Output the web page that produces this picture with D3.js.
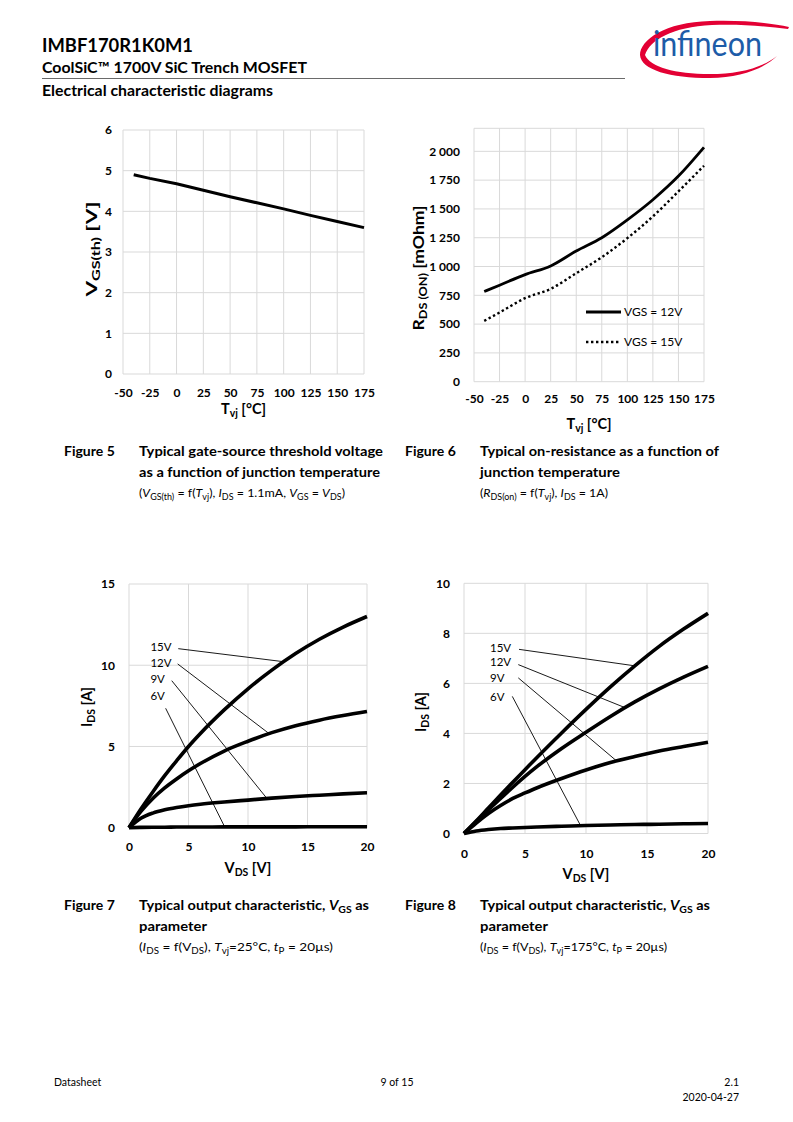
<!DOCTYPE html>
<html>
<head>
<meta charset="utf-8">
<script src="https://cdn.jsdelivr.net/npm/d3@7"></script>
<style>
body { margin: 0; background: #fff; }
svg { display: block; }
text { font-family: Lato, 'Open Sans', sans-serif; white-space: pre; }
</style>
</head>
<body>
<div id="page"></div>
<script>
// Figure 5: Vgs(th) vs Tvj
const tvjTicks = [-50, -25, 0, 25, 50, 75, 100, 125, 150, 175]
const vthTicks = [0, 1, 2, 3, 4, 5, 6]
const vthTemp = [-40, -25, 0, 25, 50, 75, 100, 125, 150, 175]
const vthValue = [4.90, 4.81, 4.68, 4.52, 4.36, 4.21, 4.06, 3.90, 3.75, 3.60]

// Figure 6: Rds(on) vs Tvj
const rdsTicks = [0, 250, 500, 750, 1000, 1250, 1500, 1750, 2000]
const rdsTemp = [-40, -25, 0, 25, 50, 75, 100, 125, 150, 175]
const rds12 = [783, 838, 930, 1005, 1135, 1250, 1405, 1580, 1785, 2035]
const rds15 = [528, 601, 725, 806, 942, 1081, 1246, 1435, 1652, 1875]
const rdsLegend = ['VGS = 12V', 'VGS = 15V']

// Figure 7 / 8: output characteristics
const vdsTicks = [0, 5, 10, 15, 20]
const ids25Ticks = [0, 5, 10, 15]
const ids175Ticks = [0, 2, 4, 6, 8, 10]
const vdsPts = [0, 1, 2, 3, 4, 5, 6, 8, 10, 12, 14, 16, 18, 20]
const ids25_15 = [0, 1.15, 2.2, 3.2, 4.12, 5.0, 5.8, 7.25, 8.55, 9.7, 10.72, 11.6, 12.35, 13.0]
const ids25_12 = [0, 1.0, 1.8, 2.45, 3.0, 3.5, 3.95, 4.72, 5.32, 5.85, 6.28, 6.62, 6.9, 7.15]
const ids25_9 = [0, 0.58, 0.9, 1.1, 1.24, 1.35, 1.44, 1.58, 1.7, 1.82, 1.92, 2.0, 2.08, 2.15]
const ids25_6 = [0, 0.02, 0.03, 0.03, 0.04, 0.04, 0.04, 0.05, 0.05, 0.05, 0.05, 0.06, 0.06, 0.06]
const ids175_15 = [0, 0.5, 1.02, 1.54, 2.05, 2.55, 3.05, 4.02, 4.96, 5.86, 6.7, 7.48, 8.17, 8.8]
const ids175_12 = [0, 0.48, 0.95, 1.4, 1.85, 2.28, 2.68, 3.4, 4.05, 4.68, 5.26, 5.78, 6.25, 6.68]
const ids175_9 = [0, 0.42, 0.8, 1.12, 1.4, 1.62, 1.83, 2.2, 2.54, 2.84, 3.08, 3.3, 3.48, 3.65]
const ids175_6 = [0, 0.1, 0.16, 0.2, 0.22, 0.24, 0.26, 0.29, 0.32, 0.34, 0.36, 0.37, 0.39, 0.40]

// curve labels + leader lines, in data units
const vgsLabels = ['15V', '12V', '9V', '6V']
const fig7LabelY = [11.13, 10.15, 9.17, 8.1]
const fig7LeadFrom = [[4.14, 11.02], [4.09, 10.08], [3.59, 9.05], [3.08, 7.35]]
const fig7LeadTo = [[12.97, 10.22], [11.76, 5.8], [11.57, 1.82], [8.04, 0.05]]
const fig8LabelY = [7.42, 6.85, 6.22, 5.48]
const fig8LeadFrom = [[4.51, 7.36], [4.45, 6.75], [4.45, 6.22], [3.96, 5.48]]
const fig8LeadTo = [[14.02, 6.7], [13.2, 5.03], [12.51, 2.9], [9.56, 0.31]]

const gridColor = '#d9d9d9'
const spaceFmt = d3.formatLocale({ decimal: '.', thousands: '\u00a0', grouping: [3], currency: ['', ''] }).format(',')

let svg = d3.select('#page')
    .append('svg')
    .attr('width', 793)
    .attr('height', 1122)

svg.append('rect').attr('width', 793).attr('height', 1122).attr('fill', '#fff')

// text with italic / subscript pieces: 'plain' or ['txt', 'i'|'s'|'is']
function richText(parent, x, y, parts, size, weight, anchor, len) {
    const t = parent.append('text')
        .attr('x', x).attr('y', y)
        .attr('font-size', size)
        .attr('font-weight', weight || 400)
        .attr('text-anchor', anchor || 'start')
        .attr('fill', '#000')
    if (len) t.attr('textLength', len).attr('lengthAdjust', 'spacingAndGlyphs')
    const subShift = size * 0.22
    let shift = 0
    parts.forEach(p => {
        const str = typeof p === 'string' ? p : p[0]
        const st = typeof p === 'string' ? '' : p[1]
        const ts = t.append('tspan').text(str)
        const want = st.includes('s') ? subShift : 0
        if (want !== shift) {
            ts.attr('dy', want - shift)
            shift = want
        }
        if (st.includes('s')) ts.attr('font-size', size * 0.72)
        if (st.includes('i')) ts.attr('font-style', 'italic')
    })
    return t
}

function buildLineChart(c) {
    const x = d3.scaleLinear().domain(c.xDomain).range([c.left, c.right])
    const y = d3.scaleLinear().domain(c.yDomain).range([c.bottom, c.top])
    const g = svg.append('g')
    const fs = 12

    // grid
    g.append('g').selectAll('line').data(c.xTicks).enter().append('line')
        .attr('x1', d => x(d)).attr('x2', d => x(d))
        .attr('y1', c.top).attr('y2', c.bottom)
        .attr('stroke', gridColor)
    g.append('g').selectAll('line').data(c.yGrid).enter().append('line')
        .attr('x1', c.left).attr('x2', c.right)
        .attr('y1', d => y(d)).attr('y2', d => y(d))
        .attr('stroke', gridColor)

    // axes (labels only)
    const xAxis = d3.axisBottom(x).tickValues(c.xTicks).tickSize(0)
        .tickPadding(c.xLabelBase - c.bottom - 0.71 * fs)
        .tickFormat(d => String(d))
    g.append('g').attr('transform', `translate(0,${c.bottom})`).call(xAxis)
        .attr('font-size', fs).attr('font-family', 'Lato, sans-serif').attr('font-weight', 'bold')
        .call(a => a.select('.domain').remove())
    const yAxis = d3.axisLeft(y).tickValues(c.yTicks).tickSize(0)
        .tickPadding(c.left - c.yLabelRight)
        .tickFormat(c.yFormat || (d => String(d)))
    g.append('g').attr('transform', `translate(${c.left},0)`).call(yAxis)
        .attr('font-size', fs).attr('font-family', 'Lato, sans-serif').attr('font-weight', 'bold')
        .call(a => a.select('.domain').remove())

    // curves
    c.series.forEach(s => {
        const line = d3.line()
            .x(d => x(d[0]))
            .y(d => y(d[1]))
            .curve(s.curve || d3.curveMonotoneX)
        g.append('path')
            .datum(d3.zip(s.x, s.y))
            .attr('d', line)
            .attr('fill', 'none')
            .attr('stroke', '#000')
            .attr('stroke-width', s.width)
            .attr('stroke-dasharray', s.dash || null)
            .attr('stroke-linejoin', 'round')
    })

    // leader lines and labels
    if (c.leaders) {
        const L = c.leaders
        L.labels.forEach((lab, i) => {
            g.append('line')
                .attr('x1', x(L.from[i][0])).attr('y1', y(L.from[i][1]))
                .attr('x2', x(L.to[i][0])).attr('y2', y(L.to[i][1]))
                .attr('stroke', '#000').attr('stroke-width', 0.9)
            g.append('text')
                .attr('x', x(L.labelX)).attr('y', y(L.labelY[i]))
                .attr('dy', '0.36em')
                .attr('font-size', 11.5)
                .text(lab)
        })
    }

    // legend
    if (c.legend) {
        c.legend.forEach((item, i) => {
            const ly = c.legendY + i * 30
            g.append('line')
                .attr('x1', c.legendX).attr('x2', c.legendX + 35)
                .attr('y1', ly).attr('y2', ly)
                .attr('stroke', '#000')
                .attr('stroke-width', c.series[i].width)
                .attr('stroke-dasharray', c.series[i].dash || null)
            g.append('text')
                .attr('x', c.legendX + 38).attr('y', ly).attr('dy', '0.36em')
                .attr('font-size', 12)
                .text(item)
        })
    }

    // axis titles
    richText(g, (c.left + c.right) / 2, c.xTitleBase, c.xTitle, 14.5, 'bold', 'middle')
    const yt = g.append('g').attr('transform', `translate(${c.yTitleBase},${c.yTitleMid}) rotate(-90)`)
    richText(yt, 0, 0, c.yTitle, 14.5, 'bold', 'middle', c.yTitleLen)
}

function drawHeader() {
    svg.append('text').attr('x', 42).attr('y', 52).attr('font-size', 18).attr('font-weight', 'bold')
        .attr('textLength', 151).attr('lengthAdjust', 'spacingAndGlyphs').text('IMBF170R1K0M1')
    svg.append('text').attr('x', 42).attr('y', 73).attr('font-size', 15).attr('font-weight', 'bold')
        .attr('textLength', 265).attr('lengthAdjust', 'spacingAndGlyphs').text('CoolSiC™ 1700V SiC Trench MOSFET')
    svg.append('line').attr('x1', 42).attr('x2', 625).attr('y1', 78.5).attr('y2', 78.5).attr('stroke', '#444').attr('stroke-width', 0.8)
    svg.append('text').attr('x', 42).attr('y', 96).attr('font-size', 14.5).attr('font-weight', 'bold')
        .attr('textLength', 231).attr('lengthAdjust', 'spacingAndGlyphs').text('Electrical characteristic diagrams')

    // logo
    const logo = svg.append('g')
    logo.append('path')
        .attr('d', 'M640,55 C640,40 665,22 710,21 C745,20 772,23 789,27 L788,29 C765,26 740,24 712,25 C672,27 650,40 645,55 Z')
        .attr('fill', '#e30034')
    logo.append('path')
        .attr('d', 'M640,55 C641,70 670,78 710,78 C740,78 765,68 777,56 C762,68 738,74 710,74 C675,74 650,67 645,55 Z')
        .attr('fill', '#e30034')
    logo.append('text')
        .attr('x', 653).attr('y', 56)
        .attr('font-family', "'Open Sans', sans-serif")
        .attr('font-size', 34).attr('font-weight', 400)
        .attr('fill', '#1d5ca8')
        .attr('textLength', 109).attr('lengthAdjust', 'spacingAndGlyphs')
        .text('infineon')
}

function drawCaption(x, y, fig, lines, params) {
    svg.append('text').attr('x', x).attr('y', y).attr('font-size', 14).attr('font-weight', 'bold').text(fig)
    lines.forEach((ln, i) => {
        richText(svg, x + 75, y + i * 21, ln.parts, 14, 'bold', 'start', ln.len)
    })
    richText(svg, x + 75, y + 41, params.parts, 12, 400, 'start', params.len)
}

function drawFooter() {
    svg.append('text').attr('x', 54).attr('y', 1086).attr('font-size', 10.5).text('Datasheet')
    svg.append('text').attr('x', 397).attr('y', 1086).attr('font-size', 10.5).attr('text-anchor', 'middle').text('9 of 15')
    svg.append('text').attr('x', 739).attr('y', 1086).attr('font-size', 10.5).attr('text-anchor', 'end').text('2.1')
    svg.append('text').attr('x', 739).attr('y', 1101).attr('font-size', 10.5).attr('text-anchor', 'end').text('2020-04-27')
}

(function draw() {
    drawHeader()

    buildLineChart({
        left: 123, right: 364, top: 130, bottom: 374,
        xDomain: [-50, 175], yDomain: [0, 6],
        xTicks: tvjTicks, yTicks: vthTicks, yGrid: vthTicks,
        xLabelBase: 397, yLabelRight: 112,
        series: [{ x: vthTemp, y: vthValue, width: 3, curve: d3.curveLinear }],
        xTitle: ['T', ['vj', 's'], ' [°C]'], xTitleBase: 414,
        yTitle: ['V', ['GS(th)', 's'], ' [V]'], yTitleBase: 97, yTitleMid: 249, yTitleLen: 95
    })

    buildLineChart({
        left: 474, right: 704, top: 128.3, bottom: 381.7,
        xDomain: [-50, 175], yDomain: [0, 2200],
        xTicks: tvjTicks, yTicks: rdsTicks, yGrid: rdsTicks.concat([2200]),
        yFormat: d => d >= 1000 ? spaceFmt(d) : String(d),
        xLabelBase: 403, yLabelRight: 460,
        series: [
            { x: rdsTemp, y: rds12, width: 2.8 },
            { x: rdsTemp, y: rds15, width: 2.4, dash: '2.4,2.6' }
        ],
        legend: rdsLegend, legendX: 586, legendY: 312,
        xTitle: ['T', ['vj', 's'], ' [°C]'], xTitleBase: 429,
        yTitle: ['R', ['DS (ON)', 's'], ' [mOhm]'], yTitleBase: 424, yTitleMid: 268, yTitleLen: 125
    })

    buildLineChart({
        left: 129, right: 367, top: 584, bottom: 827.7,
        xDomain: [0, 20], yDomain: [0, 15],
        xTicks: vdsTicks, yTicks: ids25Ticks, yGrid: ids25Ticks,
        xLabelBase: 851, yLabelRight: 115,
        series: [
            { x: vdsPts, y: ids25_15, width: 3.6 },
            { x: vdsPts, y: ids25_12, width: 3.6 },
            { x: vdsPts, y: ids25_9, width: 3.6 },
            { x: vdsPts, y: ids25_6, width: 3.6 }
        ],
        leaders: { labels: vgsLabels, labelX: 1.8, labelY: fig7LabelY, from: fig7LeadFrom, to: fig7LeadTo },
        xTitle: ['V', ['DS', 's'], ' [V]'], xTitleBase: 873,
        yTitle: ['I', ['DS', 's'], ' [A]'], yTitleBase: 92, yTitleMid: 707
    })

    buildLineChart({
        left: 464, right: 708, top: 583.3, bottom: 833.5,
        xDomain: [0, 20], yDomain: [0, 10],
        xTicks: vdsTicks, yTicks: ids175Ticks, yGrid: ids175Ticks,
        xLabelBase: 857.5, yLabelRight: 450,
        series: [
            { x: vdsPts, y: ids175_15, width: 3.6 },
            { x: vdsPts, y: ids175_12, width: 3.6 },
            { x: vdsPts, y: ids175_9, width: 3.6 },
            { x: vdsPts, y: ids175_6, width: 3.6 }
        ],
        leaders: { labels: vgsLabels, labelX: 2.13, labelY: fig8LabelY, from: fig8LeadFrom, to: fig8LeadTo },
        xTitle: ['V', ['DS', 's'], ' [V]'], xTitleBase: 878.5,
        yTitle: ['I', ['DS', 's'], ' [A]'], yTitleBase: 426, yTitleMid: 712
    })

    drawCaption(64, 456, 'Figure 5',
        [{ parts: ['Typical gate-source threshold voltage'], len: 244 },
         { parts: ['as a function of junction temperature'], len: 241 }],
        { parts: ['(', ['V', 'i'], ['GS(th)', 's'], ' = f(', ['T', 'i'], ['vj', 's'], '), ', ['I', 'i'], ['DS', 's'], ' = 1.1mA, ', ['V', 'i'], ['GS', 's'], ' = ', ['V', 'i'], ['DS', 's'], ')'], len: 206 })
    drawCaption(405, 456, 'Figure 6',
        [{ parts: ['Typical on-resistance as a function of'], len: 239 },
         { parts: ['junction temperature'], len: 140 }],
        { parts: ['(', ['R', 'i'], ['DS(on)', 's'], ' = f(', ['T', 'i'], ['vj', 's'], '), ', ['I', 'i'], ['DS', 's'], ' = 1A)'], len: 128 })
    drawCaption(64, 910, 'Figure 7',
        [{ parts: ['Typical output characteristic, ', ['V', 'i'], ['GS', 's'], ' as'], len: 230 },
         { parts: ['parameter'], len: 68 }],
        { parts: ['(', ['I', 'i'], ['DS', 's'], ' = f(V', ['DS', 's'], '), ', ['T', 'i'], ['vj', 's'], '=25°C, ', ['t', 'i'], ['P', 's'], ' = 20µs)'], len: 194 })
    drawCaption(405, 910, 'Figure 8',
        [{ parts: ['Typical output characteristic, ', ['V', 'i'], ['GS', 's'], ' as'], len: 230 },
         { parts: ['parameter'], len: 68 }],
        { parts: ['(', ['I', 'i'], ['DS', 's'], ' = f(V', ['DS', 's'], '), ', ['T', 'i'], ['vj', 's'], '=175°C, ', ['t', 'i'], ['P', 's'], ' = 20µs)'], len: 187 })

    drawFooter()
})()
</script>
</body>
</html>
